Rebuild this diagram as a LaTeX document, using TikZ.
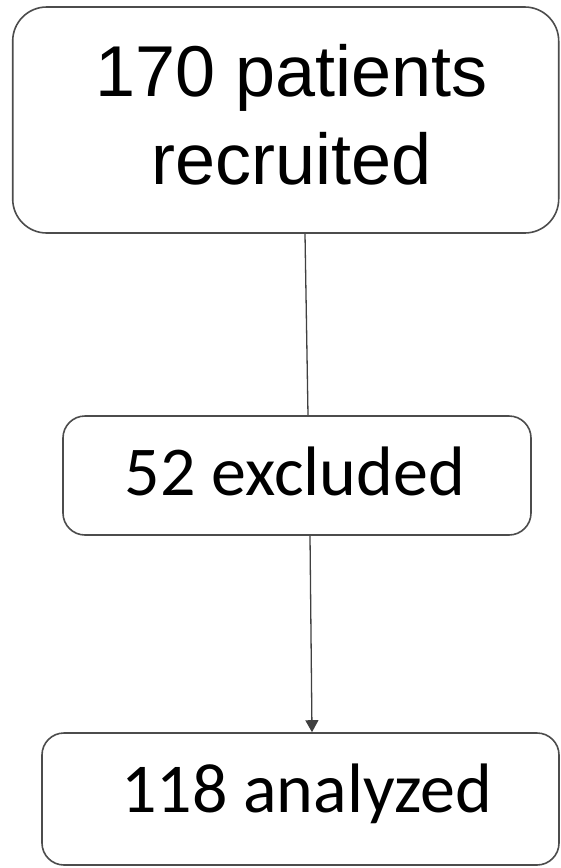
\documentclass[tikz,border=0pt]{standalone}
\usepackage{fontspec}
\setmainfont{Liberation Sans}
\newfontfamily\calibrifont{Carlito}
\usetikzlibrary{arrows.meta}
\begin{document}
\begin{tikzpicture}[x=1pt,y=-1pt,
  box/.style={draw=black!70, line width=1.6pt, fill=white, inner sep=0pt, align=center},
  conn/.style={draw=black!75, line width=1.3pt},
]
\useasboundingbox (0,0) rectangle (560,868);
\node[box, rounded corners=34pt, minimum width=546pt, minimum height=226pt,
      font=\fontsize{72}{88}\selectfont] (b1) at (285.7,120)
      {\hspace*{11pt}170 patients\\\hspace*{11pt}recruited\rule[-12pt]{0pt}{12pt}};
\node[box, rounded corners=22pt, minimum width=468pt, minimum height=119pt,
      font=\calibrifont\fontsize{70}{84}\selectfont, text height=50pt, text depth=11pt]
      (b2) at (297,475.5) {52 excluded\hspace*{4pt}};
\node[box, rounded corners=22pt, minimum width=517pt, minimum height=132pt,
      font=\calibrifont\fontsize{70}{84}\selectfont, text height=40pt, text depth=14pt]
      (b3) at (300.5,799) {\hspace*{12pt}118 analyzed};
\draw[conn] ([xshift=19.3pt]b1.south) -- ([xshift=11pt]b2.north);
\draw[conn, -{Triangle[width=13pt,length=12pt]}] ([xshift=13pt]b2.south) -- ([xshift=11.5pt]b3.north);
\end{tikzpicture}
\end{document}
